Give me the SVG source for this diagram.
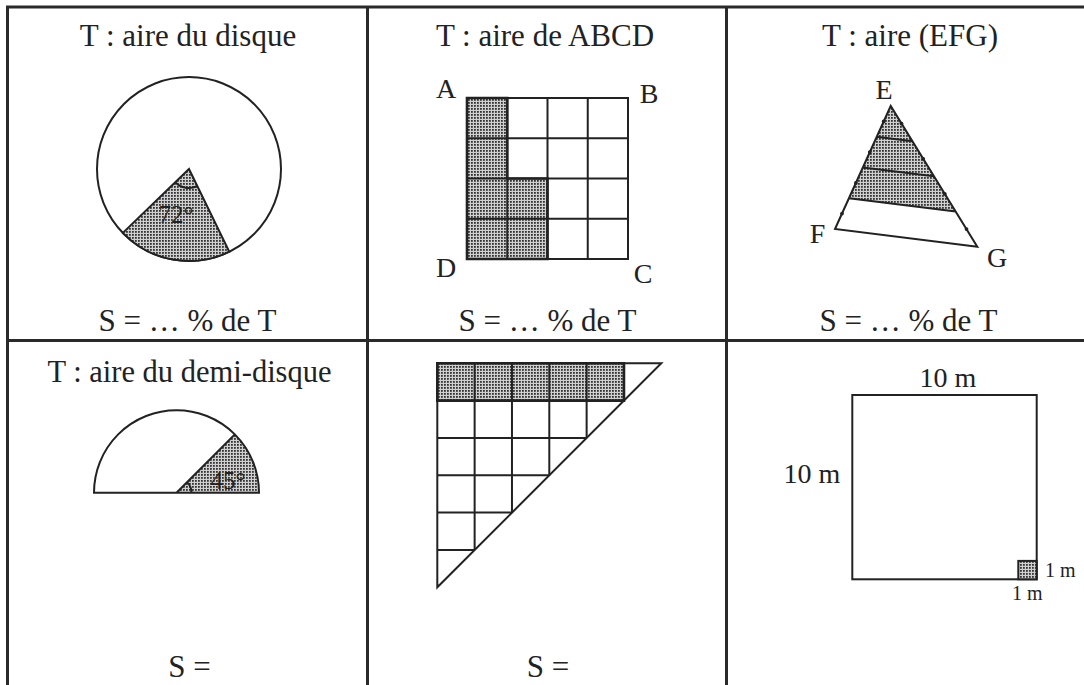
<svg xmlns="http://www.w3.org/2000/svg" width="1084" height="685" viewBox="0 0 1084 685" font-family="'Liberation Serif', 'Times New Roman', Times, serif">
<style>
text{font-family:"Liberation Serif","Times New Roman",Times,serif;fill:#222;text-anchor:middle}
.t{font-size:31px}
.l{font-size:28px}
.s{font-size:25px}
.d{font-size:28px}
.m{font-size:20px;text-anchor:start}
.frame{stroke:#2a2a2a;stroke-width:3;fill:none}
.ln{stroke:#222;stroke-width:2;fill:none}
.bold{stroke:#222;stroke-width:2.6;fill:none}
.sh{fill:url(#dots)}
</style>
<defs>
<pattern id="dots" width="3" height="3" patternUnits="userSpaceOnUse">
<rect width="3" height="3" fill="#d0d0d0"/>
<rect width="1.8" height="1.8" fill="#333"/>
</pattern>
</defs>
<rect width="1084" height="685" fill="#fff"/>
<g id="frame">
<path class="frame" d="M1090,7 H7.5 V690 M7.5,340.5 H1090 M367.5,7 V690 M726.5,7 V690"/>
</g>
<g id="cell-disque">
<text class="t" x="188" y="46">T : aire du disque</text>
<circle class="ln" cx="189" cy="169" r="92"/>
<path class="sh" d="M189,169 L229.3,251.7 A92,92 0 0,1 122.8,232.9 Z"/>
<path class="ln" d="M189,169 L229.3,251.7 A92,92 0 0,1 122.8,232.9 Z"/>
<path class="ln" stroke-width="1.2" d="M197.3,186 A19,19 0 0,1 175.3,182.2"/>
<text class="s" x="176" y="223">72°</text>
<text class="t" x="187.5" y="331">S = … % de T</text>
</g>
<g id="cell-abcd">
<text class="t" x="545" y="46">T : aire de ABCD</text>
<rect class="sh" x="467" y="98" width="40.25" height="161"/>
<rect class="sh" x="507.25" y="178.5" width="40.25" height="80.5"/>
<path class="ln" d="M467,98 H628 V259 H467 Z M467,138.25 H628 M467,178.5 H628 M467,218.75 H628 M507.25,98 V259 M547.5,98 V259 M587.75,98 V259"/>
<path class="bold" d="M467,98 H507.25 V178.5 H547.5 V259 H467 Z"/>
<text class="l" x="446" y="98">A</text>
<text class="l" x="649" y="103">B</text>
<text class="l" x="643" y="283">C</text>
<text class="l" x="446" y="277">D</text>
<text class="t" x="547.5" y="331">S = … % de T</text>
</g>
<g id="cell-efg">
<text class="t" x="910" y="46">T : aire (EFG)</text>
<path class="sh" d="M890.7,106 L848.95,198.25 L955.65,211.5 Z"/>
<path class="ln" d="M890.7,106 L835,229 L977.3,246.7 Z M876.8,136.75 L912.35,141.2 M862.85,167.5 L934,176.35 M848.95,198.25 L955.65,211.5"/>
<g fill="#222">
<circle cx="883.7" cy="121.4" r="1.9"/><circle cx="869.8" cy="152.1" r="1.9"/><circle cx="855.9" cy="182.9" r="1.9"/><circle cx="842" cy="213.6" r="1.9"/>
<circle cx="901.5" cy="123.6" r="1.9"/><circle cx="923.2" cy="158.8" r="1.9"/><circle cx="944.8" cy="193.9" r="1.9"/><circle cx="966.5" cy="229.1" r="1.9"/>
</g>
<text class="l" x="884" y="99">E</text>
<text class="l" x="817.5" y="243">F</text>
<text class="l" x="997" y="267">G</text>
<text class="t" x="908.5" y="331">S = … % de T</text>
</g>
<g id="cell-demi-disque">
<text class="t" x="189.5" y="382" style="font-size:30.5px">T : aire du demi-disque</text>
<path class="sh" d="M176.5,492.7 L259,492.7 A82.5,82.5 0 0,0 234.8,434.4 Z"/>
<path class="ln" d="M94,492.7 A82.5,82.5 0 0,1 259,492.7 Z M176.5,492.7 L234.8,434.4"/>
<path class="ln" stroke-width="1.2" d="M191.5,492.7 A15,15 0 0,0 187.1,482.1"/>
<text class="s" x="228" y="489">45°</text>
<text class="t" x="189.5" y="677">S =</text>
</g>
<g id="cell-triangle-grid">
<rect class="sh" x="437.3" y="363.3" width="186.67" height="37.33"/>
<path class="ln" d="M474.63,363.3 V549.95 M511.97,363.3 V512.62 M549.3,363.3 V475.29 M586.63,363.3 V437.96 M623.97,363.3 V400.63 M437.3,400.63 H623.97 M437.3,437.96 H586.63 M437.3,475.29 H549.3 M437.3,512.62 H511.97 M437.3,549.95 H474.63"/>
<path class="ln" d="M437.3,363.3 H661.3 L437.3,587.3 Z"/>
<path class="bold" d="M437.3,363.3 H623.97 V400.63 H437.3 Z"/>
<text class="t" x="548" y="677">S =</text>
</g>
<g id="cell-square">
<rect class="ln" x="852.3" y="395" width="184.4" height="184.3"/>
<rect class="sh" x="1018.3" y="560.9" width="18.4" height="18.4"/>
<rect class="ln" x="1018.3" y="560.9" width="18.4" height="18.4" stroke-width="1.5"/>
<text class="d" x="948" y="387">10 m</text>
<text class="d" x="812" y="483">10 m</text>
<text class="m" x="1045" y="577">1 m</text>
<text class="m" x="1012" y="600">1 m</text>
</g>
</svg>
